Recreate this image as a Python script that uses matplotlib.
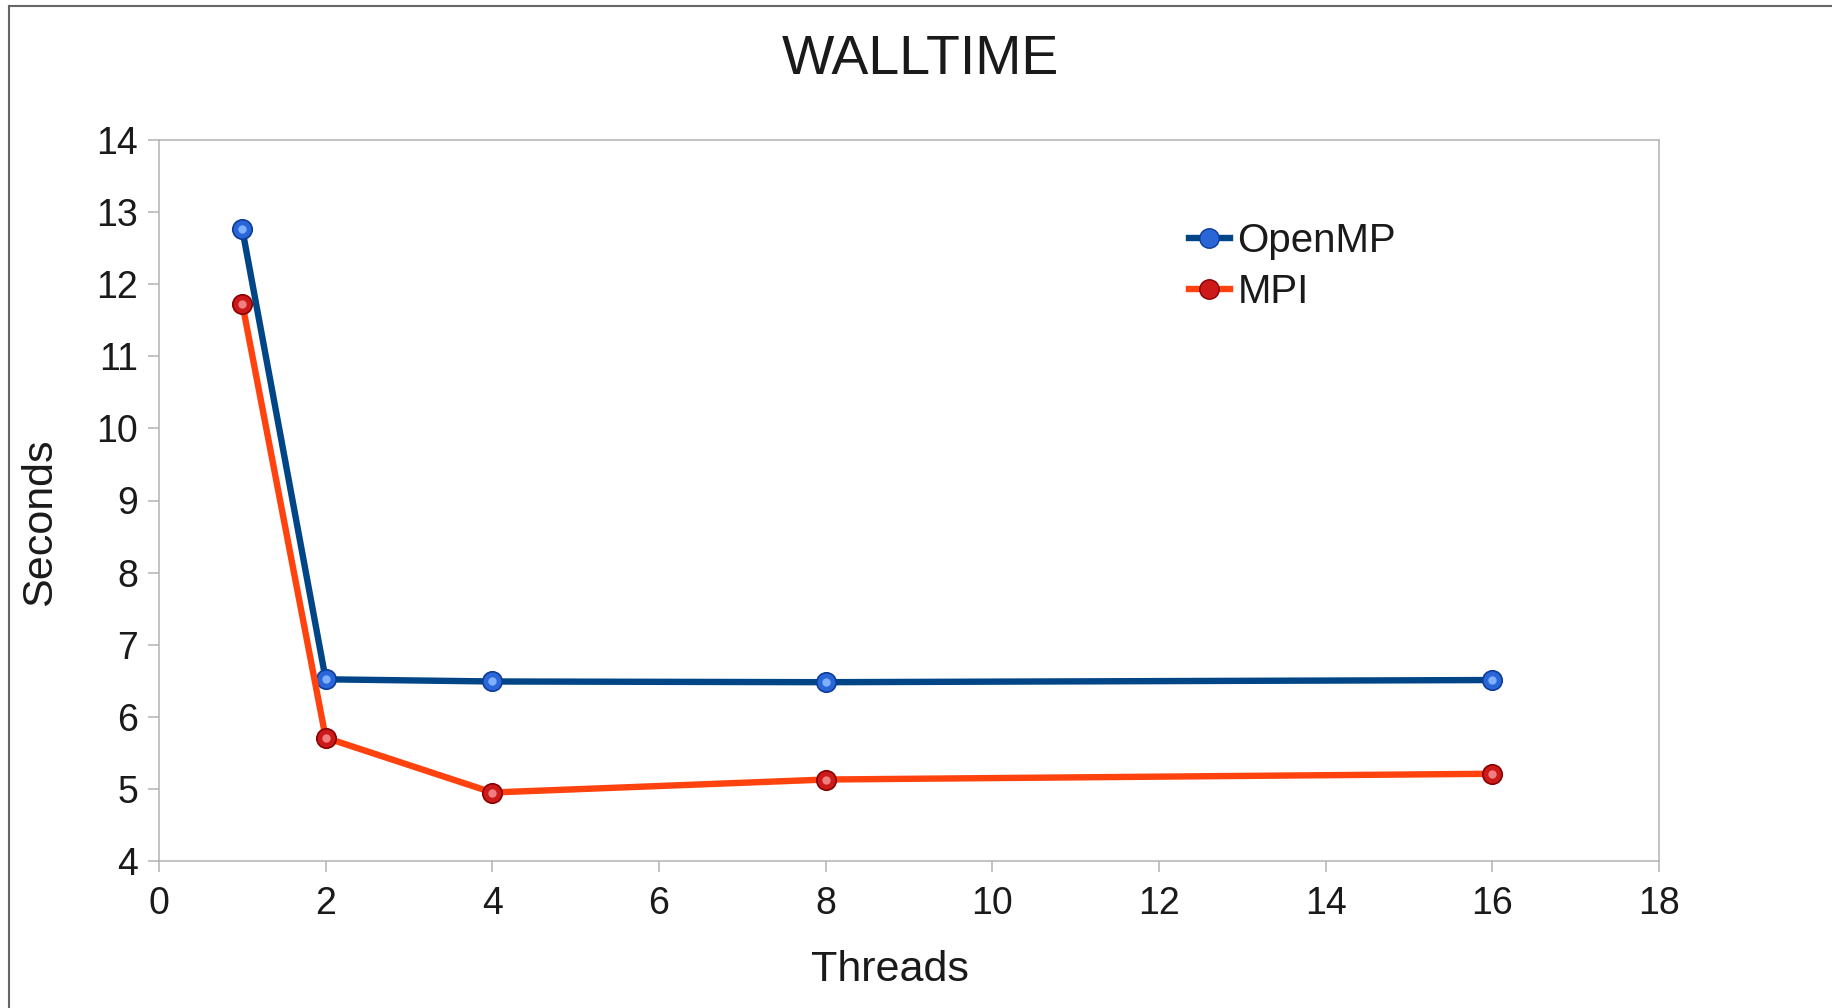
import matplotlib
matplotlib.use("Agg")
import matplotlib.pyplot as plt
from matplotlib.lines import Line2D

plt.rcParams["font.family"] = ["Liberation Sans", "DejaVu Sans"]

# ------------------------------------------
# Data
# ------------------------------------------
threads = [1, 2, 4, 8, 16]
openmp = [12.76, 6.52, 6.49, 6.48, 6.51]
mpi = [11.73, 5.71, 4.95, 5.13, 5.21]

x_ticks = [0, 2, 4, 6, 8, 10, 12, 14, 16, 18]
y_ticks = [4, 5, 6, 7, 8, 9, 10, 11, 12, 13, 14]

W, H = 1832, 1008
fig = plt.figure(figsize=(W / 100, H / 100), dpi=100)
ax = fig.add_axes([159 / W, 1 - 861 / H, 1500 / W, 721 / H])

# ------------------------------------------
# Lines with "sphere" markers
# ------------------------------------------
def sphere_line(x, y, line_col, face, edge, hi, label):
    ax.plot(x, y, color=line_col, lw=4.6, marker="o", ms=14,
            mfc=face, mec=edge, mew=1.2, label=label, zorder=3)
    ax.plot(x, y, ls="none", marker="o", ms=6, mfc=hi, mec="none", zorder=4)

sphere_line(threads, openmp, "#004586", "#2a66d8", "#0b3d99", "#7fb0ff", "OpenMP")
sphere_line(threads, mpi, "#ff420e", "#cc1a1a", "#8a0000", "#f08080", "MPI")

ax.set_xlim(0, 18)
ax.set_ylim(4, 14)
ax.set_xticks(x_ticks)
ax.set_yticks(y_ticks)

for s in ax.spines.values():
    s.set_color("#b3b3b3")
    s.set_linewidth(1.1)
ax.tick_params(direction="out", length=8, width=1.1, color="#b3b3b3",
               labelsize=27, labelcolor="#1a1a1a")
ax.tick_params(axis="x", pad=10)
ax.tick_params(axis="y", pad=7)

ax.set_xlabel("Threads", fontsize=31, color="#1a1a1a")
ax.xaxis.set_label_coords(0.487, -0.1235)
ax.set_ylabel("Seconds", fontsize=31, color="#1a1a1a")
ax.yaxis.set_label_coords(-0.066, 0.47)

fig.text(920 / W, 1 - 74 / H, "WALLTIME", fontsize=40, color="#1a1a1a",
         ha="center", va="baseline")

# Legend (custom handles so the sphere sits on the line)
handles = [
    Line2D([], [], color="#004586", lw=4.6, marker="o", ms=14,
           mfc="#2a66d8", mec="#0b3d99"),
    Line2D([], [], color="#ff420e", lw=4.6, marker="o", ms=14,
           mfc="#cc1a1a", mec="#8a0000"),
]
ax.legend(handles, ["OpenMP", "MPI"], loc="upper left",
          bbox_to_anchor=(1153 / W, 1 - 186 / H), bbox_transform=fig.transFigure,
          frameon=False, fontsize=29, handlelength=1.0, handletextpad=0.2,
          labelspacing=0.32, labelcolor="#1a1a1a")

# outer border (top and left only visible)
fig.add_artist(Line2D([9 / W, 9 / W], [0, 1 - 6 / H], color="#666666", lw=1.5,
                      transform=fig.transFigure))
fig.add_artist(Line2D([9 / W, 1], [1 - 6 / H, 1 - 6 / H], color="#666666", lw=1.5,
                      transform=fig.transFigure))

fig.savefig("out.png", dpi=100)
